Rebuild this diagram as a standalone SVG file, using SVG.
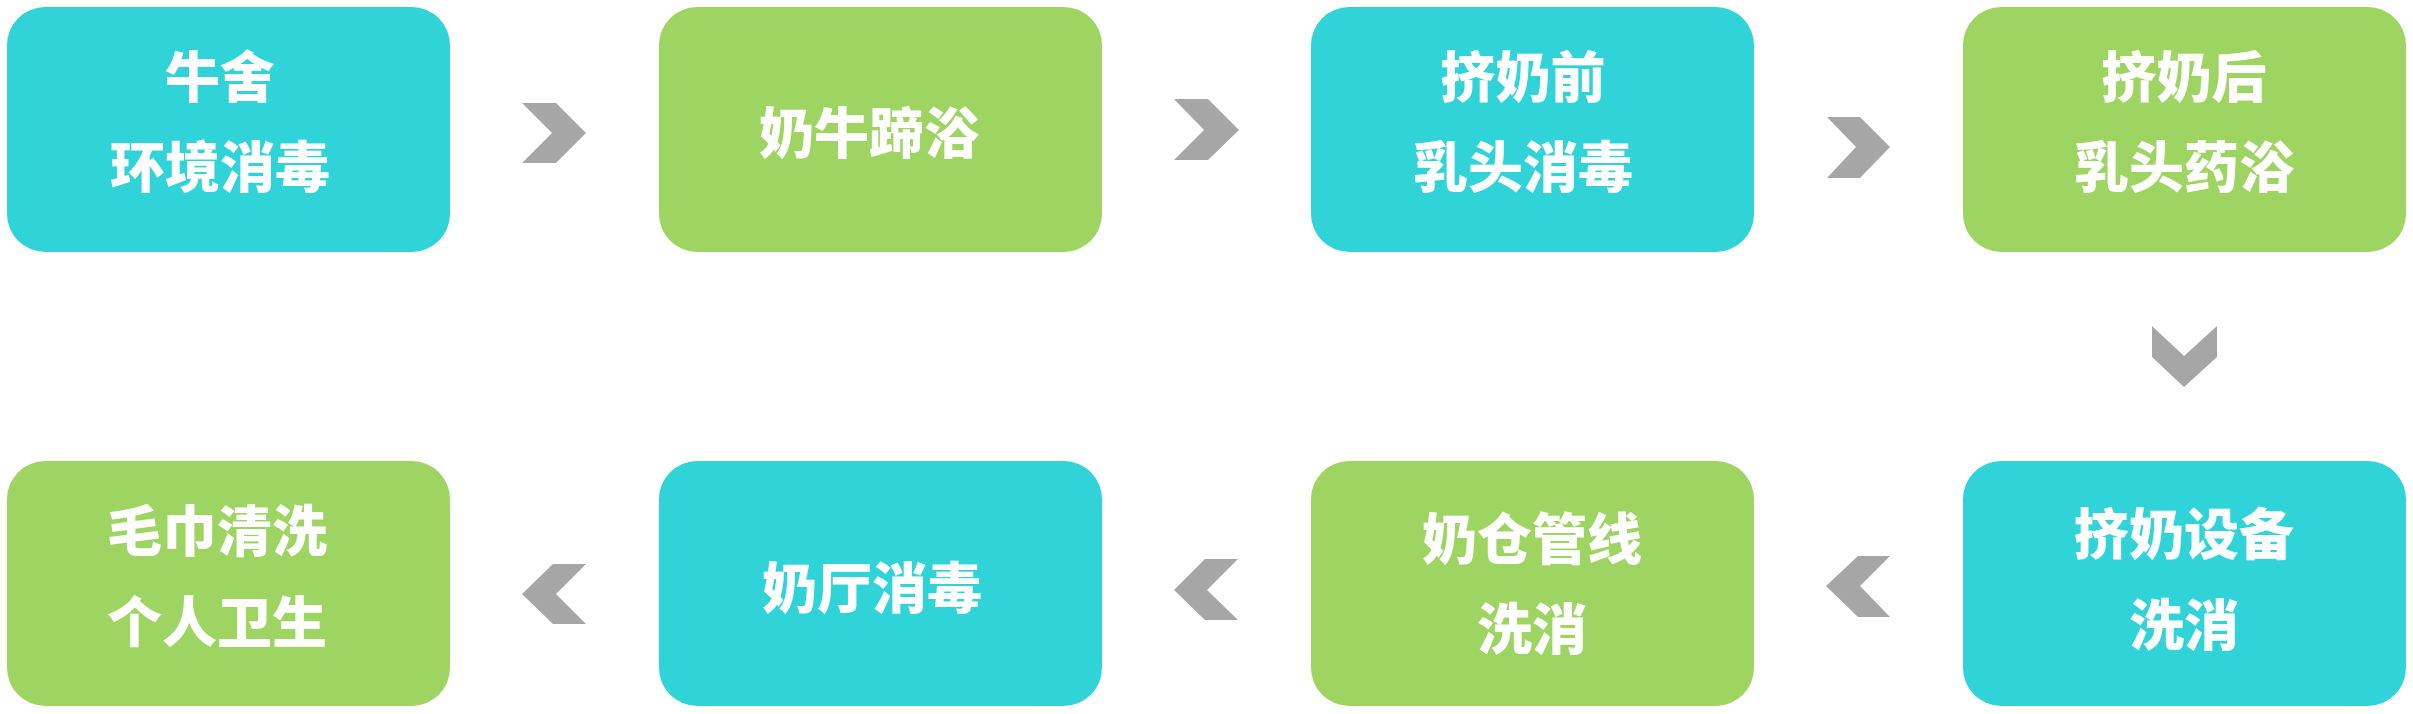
<svg xmlns="http://www.w3.org/2000/svg" width="2413" height="714" viewBox="0 0 2413 714">
<style>
.cyan{fill:#2fd3d8}
.green{fill:#9ed462}
.lbl{fill:#ffffff;font-family:"Noto Sans CJK SC","Noto Sans CJK TC",sans-serif;font-weight:900;font-size:55px;text-anchor:middle}
.chev{fill:#a6a6a6}
</style>
<rect width="2413" height="714" fill="#ffffff"/>
<g id="connectors">
<polygon class="chev" points="522,103 556,103 586,133 556,163 522,163 552,133"/>
<polygon class="chev" points="1174,99 1208,99 1239,130 1208,160 1174,160 1204,130"/>
<polygon class="chev" points="1827,117 1860,117 1890,147 1860,178 1827,178 1856,147"/>
<polygon class="chev" points="2152,326 2184,356 2217,326 2217,357 2184,387 2152,357"/>
<polygon class="chev" points="1858,556 1890,556 1860,586 1890,617 1858,617 1826,586"/>
<polygon class="chev" points="1205,559 1238,559 1207,590 1238,620 1205,620 1174,590"/>
<polygon class="chev" points="553,564 586,564 556,594 586,624 553,624 522,594"/>
</g>
<g id="n1">
<rect class="cyan" x="7" y="7" width="443" height="245" rx="38"/>
<text class="lbl" x="220" y="97">牛舍</text>
<text class="lbl" x="220" y="187">环境消毒</text>
</g>
<g id="n2">
<rect class="green" x="659" y="7" width="443" height="245" rx="38"/>
<text class="lbl" x="869" y="153">奶牛蹄浴</text>
</g>
<g id="n3">
<rect class="cyan" x="1311" y="7" width="443" height="245" rx="38"/>
<text class="lbl" x="1523" y="97">挤奶前</text>
<text class="lbl" x="1523" y="187">乳头消毒</text>
</g>
<g id="n4">
<rect class="green" x="1963" y="7" width="443" height="245" rx="38"/>
<text class="lbl" x="2184" y="97">挤奶后</text>
<text class="lbl" x="2184" y="187">乳头药浴</text>
</g>
<g id="n5">
<rect class="cyan" x="1963" y="461" width="443" height="245" rx="38"/>
<text class="lbl" x="2184" y="554">挤奶设备</text>
<text class="lbl" x="2184" y="645">洗消</text>
</g>
<g id="n6">
<rect class="green" x="1311" y="461" width="443" height="245" rx="38"/>
<text class="lbl" x="1532" y="559">奶仓管线</text>
<text class="lbl" x="1532" y="649">洗消</text>
</g>
<g id="n7">
<rect class="cyan" x="659" y="461" width="443" height="245" rx="38"/>
<text class="lbl" x="872" y="608">奶厅消毒</text>
</g>
<g id="n8">
<rect class="green" x="7" y="461" width="443" height="245" rx="38"/>
<text class="lbl" x="217" y="551">毛巾清洗</text>
<text class="lbl" x="217" y="642">个人卫生</text>
</g>
</svg>
